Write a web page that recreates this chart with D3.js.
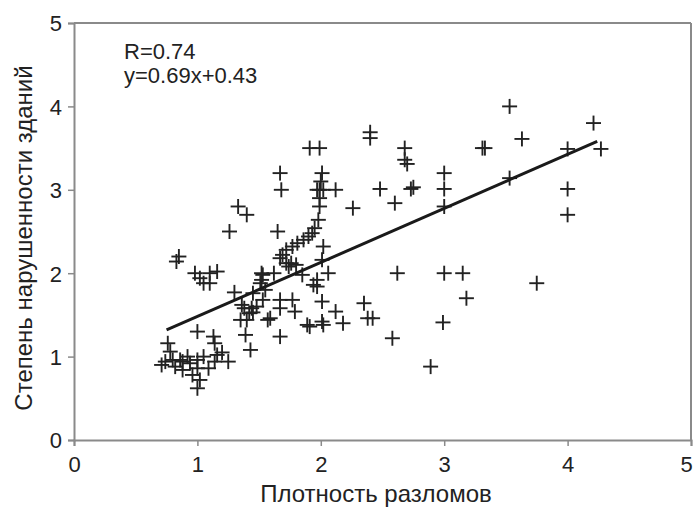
<!DOCTYPE html>
<html><head><meta charset="utf-8">
<script src="https://cdn.jsdelivr.net/npm/d3@7"></script>
<style>body{margin:0;background:#fff}svg text{font-family:"Liberation Sans",Arial,sans-serif;fill:#222}</style>
</head><body><svg id="c" width="696" height="507"></svg>
<script>
const xTicks=[0,1,2,3,4,5];
const yTicks=[0,1,2,3,4,5];
const xTitle="Плотность разломов";
const yTitle="Степень нарушенности зданий";
const annot=["R=0.74","y=0.69x+0.43"];
const ptsX=[0.76,0.78,0.74,0.71,0.80,0.86,0.88,0.88,0.94,1.0,1.0,0.96,1.02,1.0,1.16,1.14,1.25,1.09,1.0,1.13,1.14,1.20,1.05,0.92,0.82,
0.85,0.83,0.98,1.02,1.10,1.16,1.05,1.10,
1.33,1.40,1.26,1.53,1.52,1.30,1.55,1.35,1.39,1.43,1.57,1.38,1.42,1.48,1.45,1.53,1.44,1.45,1.40,1.59,1.52,1.51,1.36,
1.67,1.68,1.65,1.67,1.72,1.74,1.76,1.69,1.72,1.77,1.81,1.86,1.90,1.93,1.95,1.98,1.99,1.97,1.99,2.02,2.12,2.01,1.91,1.99,2.02,2.01,2.06,1.85,1.97,1.94,1.97,1.67,1.67,1.77,1.79,2.01,2.12,1.89,1.91,2.01,2.02,2.18,1.67,1.80,1.62,2.00,1.99,
2.26,2.40,2.40,2.68,2.68,2.70,2.48,2.73,2.75,2.60,2.62,2.35,2.38,2.42,2.58,2.89,
3.0,3.0,3.0,3.0,3.15,3.18,2.99,3.31,3.33,3.53,3.63,3.53,3.75,4.21,4.0,4.27,4.0,4.0];
const ptsY=[1.16,1.06,0.94,0.90,0.96,0.96,0.94,0.84,0.92,0.96,0.86,0.78,0.72,0.62,1.02,0.94,0.94,0.86,1.30,1.24,1.16,1.05,1.00,1.0,0.88,
2.20,2.14,2.0,1.94,2.0,2.02,1.88,1.88,
2.80,2.70,2.50,1.98,1.92,1.77,1.80,1.44,1.26,1.08,1.44,1.58,1.52,1.60,1.76,1.68,1.58,1.53,1.44,1.46,2.0,1.88,1.62,
3.20,3.0,2.50,2.18,2.12,2.08,2.12,2.22,2.28,2.32,2.36,2.40,2.44,2.48,2.54,2.64,2.80,3.0,3.0,3.0,3.0,3.2,3.5,3.5,2.32,2.16,2.0,1.98,1.92,1.86,1.84,1.68,1.58,1.68,1.54,1.66,1.54,1.38,1.36,1.42,1.38,1.40,1.24,2.10,2.0,3.10,2.90,
2.78,3.69,3.62,3.50,3.36,3.31,3.01,3.01,3.03,2.84,2.0,1.64,1.46,1.46,1.22,0.88,
3.2,3.01,2.80,2.0,2.0,1.70,1.41,3.50,3.50,4.0,3.61,3.14,1.88,3.80,3.49,3.49,3.01,2.70];
const lineX=[0.75,4.24];
const lineY=[1.32,3.58];

const svg=d3.select("#c");
const L=74,R=691,T=23,B=440;
const x=d3.scaleLinear().domain([0,5]).range([L,R]);
const y=d3.scaleLinear().domain([0,5]).range([B,T]);
const axCol="#8a8a8a";
svg.append("line").attr("x1",L).attr("x2",R).attr("y1",T).attr("y2",T).attr("stroke",axCol).attr("stroke-width",2);
svg.append("line").attr("x1",R).attr("x2",R).attr("y1",T).attr("y2",B).attr("stroke",axCol).attr("stroke-width",2);
const gx=svg.append("g").attr("transform",`translate(0,${B})`).call(d3.axisBottom(x).tickValues(xTicks).tickFormat(d3.format("d")).tickSize(6).tickPadding(10));
const gy=svg.append("g").attr("transform",`translate(${L},0)`).call(d3.axisLeft(y).tickValues(yTicks).tickFormat(d3.format("d")).tickSize(6).tickPadding(6));
[gx,gy].forEach(g=>{
  g.select(".domain").attr("stroke",axCol).attr("stroke-width",2);
  g.selectAll(".tick line").attr("stroke",axCol).attr("stroke-width",1.5);
  g.selectAll(".tick text").attr("font-size",22).attr("fill","#222").attr("font-family","Liberation Sans, Arial, sans-serif");
});
gy.selectAll(".tick text").attr("dy","0.36em");
gx.selectAll(".tick text").filter(d=>d===5).attr("dx",-5);
svg.append("text").attr("x",376).attr("y",502).attr("text-anchor","middle").attr("font-size",24).text(xTitle);
svg.append("text").attr("transform",`translate(32,${238}) rotate(-90)`).attr("text-anchor","middle").attr("font-size",24).text(yTitle);
annot.forEach((t,i)=>svg.append("text").attr("x",124).attr("y",59+i*24).attr("font-size",22).text(t));
const data=ptsX.map((d,i)=>[d,ptsY[i]]);
const a=7.5;
const g=svg.append("g").attr("stroke","#222").attr("stroke-width",1.9);
data.forEach(([px,py])=>{
  const cx=x(px),cy=y(py);
  g.append("line").attr("x1",cx-a).attr("x2",cx+a).attr("y1",cy).attr("y2",cy);
  g.append("line").attr("x1",cx).attr("x2",cx).attr("y1",cy-a).attr("y2",cy+a);
});
svg.append("line").attr("x1",x(lineX[0])).attr("y1",y(lineY[0])).attr("x2",x(lineX[1])).attr("y2",y(lineY[1])).attr("stroke","#1a1a1a").attr("stroke-width",3);
</script></body></html>
